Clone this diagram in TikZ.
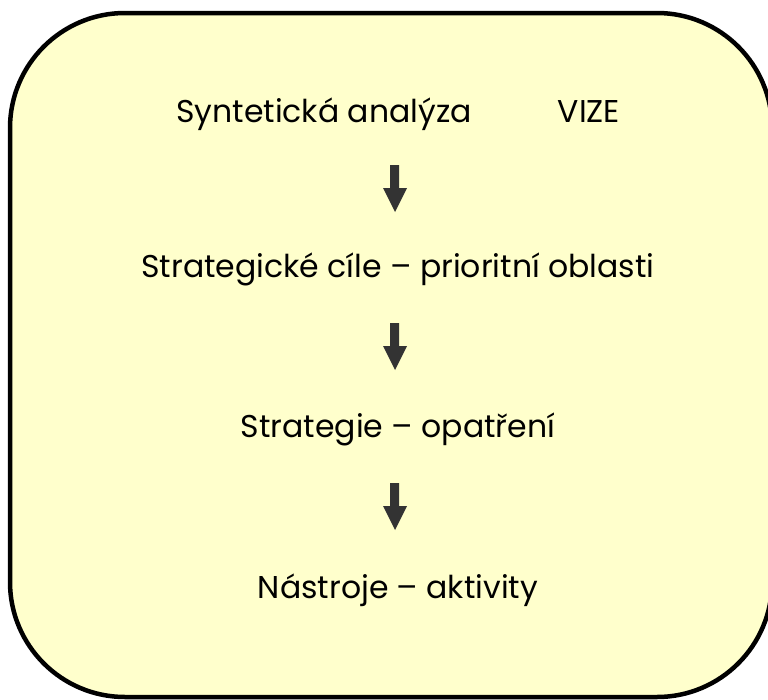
\documentclass[tikz,border=0pt]{standalone}
\usepackage{fontspec}
\setmainfont{Poppins}
\definecolor{boxfill}{HTML}{FFFFCC}
\definecolor{arrowgray}{HTML}{333333}
\begin{document}
\begin{tikzpicture}[x=1pt,y=-1pt,
  lbl/.style={font=\fontsize{31.5}{36}\selectfont, inner sep=0pt, anchor=base},
  bigarrow/.style={fill=arrowgray, draw=none}]
\useasboundingbox (0,0) rectangle (768,699);
\begin{scope}
\clip (0,0) rectangle (768,699);
\draw[line width=4.5pt, fill=boxfill, rounded corners=115pt] (10,13) rectangle (772,697);
\end{scope}
\node[lbl] (syn) at (324,122) {Syntetická analýza};
\node[lbl] (vize) at (589,122) {VIZE};
\node[lbl] (cile) at (398,277) {Strategické cíle – prioritní oblasti};
\node[lbl] (strat) at (398,437) {Strategie – opatření};
\node[lbl] (nast) at (398,598) {Nástroje – aktivity};
\foreach \t/\n in {165/a1,323/a2,483/a3}{
  \fill[bigarrow] (390,\t) -- (399,\t) -- (399,\t+23) -- (407,\t+23) -- (395,\t+47) -- (383,\t+23) -- (390,\t+23) -- cycle;
}
\end{tikzpicture}
\end{document}
